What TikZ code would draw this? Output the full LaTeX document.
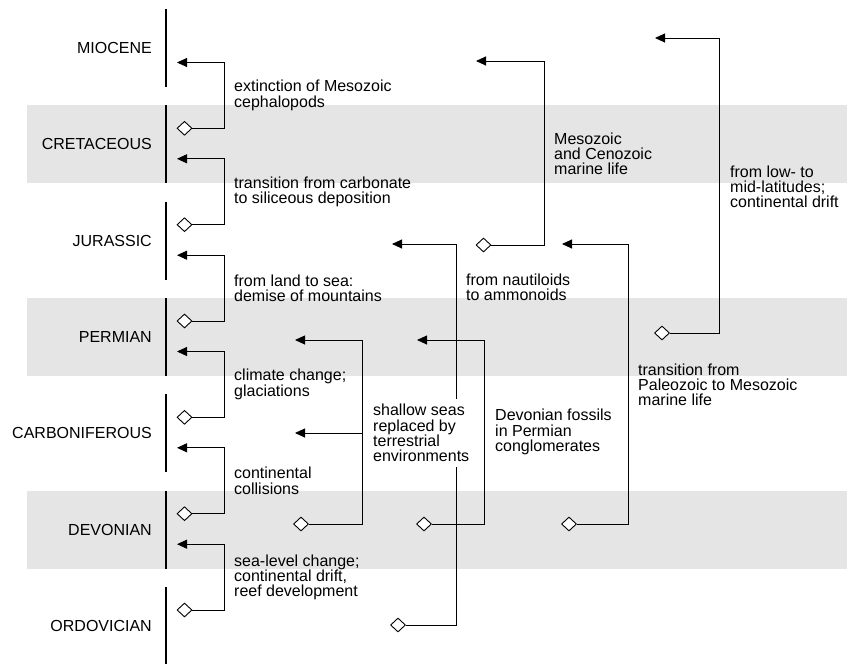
\documentclass[tikz,border=0pt]{standalone}
\usepackage{fontspec}
\setmainfont{Liberation Sans}
\usetikzlibrary{arrows.meta,shapes.geometric}
\begin{document}
\begin{tikzpicture}[x=1pt,y=-1pt,
  band/.style={fill=black!10, draw=none},
  bar/.style={line width=1.6pt},
  period/.style={anchor=east, inner sep=0pt, font=\fontsize{16}{15}\selectfont},
  lbl/.style={anchor=west, align=left, inner sep=0pt, font=\fontsize{16}{15.2}\selectfont},
  conn/.style={line width=0.9pt, -{Triangle[length=10pt,width=9pt]}},
  dia/.style={diamond, aspect=1, draw, fill=white, line width=0.9pt, minimum width=15pt, minimum height=14pt, inner sep=0pt},
]
\useasboundingbox (0,0) rectangle (847,664);
% bands
\foreach \y in {144.3,337,529.7}{
  \fill[black!10] (27,\y-39) rectangle (847,\y+39);
}
% periods and bars
\foreach \n/\y/\t in {p0/48/MIOCENE,p1/144.3/CRETACEOUS,p2/240.7/JURASSIC,p3/337/PERMIAN,p4/433.3/CARBONIFEROUS,p5/529.7/DEVONIAN,p6/626/ORDOVICIAN}{
  \node[period] (\n) at (152,\y) {\t};
  \draw[bar] (166,\y-39) -- (166,\y+39);
}
% left connectors
\foreach \i/\ya/\yd/\txt in {0/62.5/128.3/{extinction of Mesozoic\\cephalopods},
  1/158.8/224.7/{transition from carbonate\\to siliceous deposition},
  2/255.2/321/{from land to sea:\\demise of mountains},
  3/351.5/417.3/{climate change;\\glaciations},
  4/447.8/513.7/{continental\\collisions},
  5/544.2/610/{sea-level change;\\continental drift,\\reef development}}{
  \coordinate (aL\i) at (177,\ya);
  \coordinate (cL\i) at (224,\ya);
  \node[dia] (dL\i) at (184.5,\yd) {};
  \draw[conn] (dL\i.east) -| (cL\i) -- (aL\i);
  \node[lbl] (tL\i) at (234,{(\ya+\yd)/2}) {\txt};
}
% M1 Mesozoic and Cenozoic marine life
\node[dia] (d1) at (483.5,245) {};
\coordinate (c1) at (544,61);
\coordinate (a1) at (476,61);
\draw[conn] (d1.east) -| (c1) -- (a1);
% M2 nautiloids to ammonoids
\node[dia] (d2) at (398,625) {};
\coordinate (c2) at (456,244);
\coordinate (a2) at (392,244);
\draw[conn] (d2.east) -| (c2) -- (a2);
% M3 shallow seas
\node[dia] (d3) at (301,524) {};
\coordinate (c3) at (362,340);
\coordinate (a3) at (295,340);
\coordinate (b3) at (362,433);
\coordinate (e3) at (295,433);
\draw[conn] (d3.east) -| (c3) -- (a3);
\draw[conn] (b3) -- (e3);
% M4 Devonian fossils
\node[dia] (d4) at (424,524) {};
\coordinate (c4) at (484,340);
\coordinate (a4) at (417,340);
\draw[conn] (d4.east) -| (c4) -- (a4);
% M5 Paleozoic to Mesozoic
\node[dia] (d5) at (569,524) {};
\coordinate (c5) at (628,244);
\coordinate (a5) at (562,244);
\draw[conn] (d5.east) -| (c5) -- (a5);
% M6 low- to mid-latitudes
\node[dia] (d6) at (662,333) {};
\coordinate (c6) at (719,38);
\coordinate (a6) at (655,38);
\draw[conn] (d6.east) -| (c6) -- (a6);
% labels
\node[lbl] (t1) at (554,154) {Mesozoic\\and Cenozoic\\marine life};
\node[lbl] (t2) at (466,287) {from nautiloids\\to ammonoids};
\node[lbl, fill=white, inner sep=5pt] (t3) at (368,433) {shallow seas\\replaced by\\terrestrial\\environments};
\node[lbl] (t4) at (495,432) {Devonian fossils\\in Permian\\conglomerates};
\node[lbl] (t5) at (638,385) {transition from\\Paleozoic to Mesozoic\\marine life};
\node[lbl] (t6) at (730,187) {from low- to\\mid-latitudes;\\continental drift};
\end{tikzpicture}
\end{document}
